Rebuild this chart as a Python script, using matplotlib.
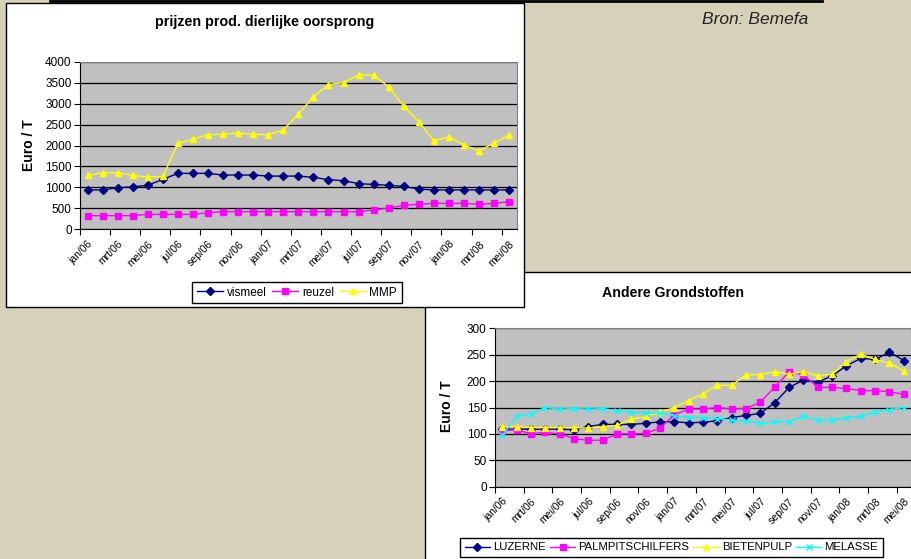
import matplotlib.pyplot as plt
from matplotlib.patches import Rectangle

plt.rcParams['font.family'] = ['Liberation Sans', 'DejaVu Sans']

# maanden jan/06 t/m mei/08
maanden = ['jan/06', 'feb/06', 'mrt/06', 'apr/06', 'mei/06', 'jun/06',
           'jul/06', 'aug/06', 'sep/06', 'okt/06', 'nov/06', 'dec/06',
           'jan/07', 'feb/07', 'mrt/07', 'apr/07', 'mei/07', 'jun/07',
           'jul/07', 'aug/07', 'sep/07', 'okt/07', 'nov/07', 'dec/07',
           'jan/08', 'feb/08', 'mrt/08', 'apr/08', 'mei/08']

# prijzen prod. dierlijke oorsprong (Euro / T)
vismeel = [940, 940, 990, 1015, 1050, 1190, 1335, 1335, 1335, 1295, 1295, 1295,
           1270, 1270, 1270, 1240, 1185, 1160, 1090, 1070, 1050, 1025, 960,
           940, 940, 940, 940, 940, 940]
reuzel = [326, 326, 326, 326, 357, 357, 357, 357, 397, 421, 421, 421,
          421, 421, 421, 421, 421, 421, 421, 460, 508, 572, 596,
          619, 619, 619, 596, 619, 659]
mmp = [1286, 1350, 1350, 1286, 1247, 1262, 2049, 2152, 2255, 2271, 2295, 2271,
       2255, 2370, 2750, 3160, 3454, 3502, 3692, 3676, 3398, 2938, 2565,
       2112, 2207, 2017, 1866, 2064, 2247]

# Andere Grondstoffen (Euro / T)
luzerne = [109, 109, 109, 109, 109, 108, 114, 118, 118, 118, 120, 123,
           123, 121, 122, 125, 131, 135, 139, 159, 188, 202, 198,
           210, 229, 243, 241, 255, 239]
palmpitschilfers = [106, 108, 100, 103, 100, 91, 88, 88, 100, 100, 101, 111,
                    136, 147, 147, 150, 147, 148, 160, 189, 217, 212, 188,
                    188, 186, 182, 182, 180, 175]
bietenpulp = [114, 114, 112, 112, 112, 112, 111, 114, 116, 128, 133, 141,
              150, 163, 176, 192, 192, 212, 212, 218, 213, 218, 210,
              213, 237, 251, 241, 234, 219]
melasse = [97, 133, 138, 150, 147, 148, 147, 148, 144, 141, 140, 140,
           134, 131, 131, 129, 126, 125, 120, 123, 123, 133, 126,
           126, 131, 133, 142, 146, 150]

W, H = 912, 559


def rect(x0, y0, x1, y1):
    # pixelcoordinaten -> figuurcoordinaten
    return [x0 / W, 1 - y1 / H, (x1 - x0) / W, (y1 - y0) / H]


fig = plt.figure(figsize=(W / 100, H / 100), dpi=100)
fig.patch.set_facecolor('#d7d1ba')

# achtergrond met kaders
bg = fig.add_axes([0, 0, 1, 1])
bg.set_xlim(0, W)
bg.set_ylim(H, 0)
bg.axis('off')
bg.plot([50, 822], [0.5, 0.5], color='black', lw=2)
bg.add_patch(Rectangle((425, 272), 520, 300, facecolor='white', edgecolor='black', lw=1))
bg.add_patch(Rectangle((6, 3), 518, 304, facecolor='white', edgecolor='black', lw=1))
bg.text(755, 20, 'Bron: Bemefa', fontsize=12.5, style='italic', ha='center', va='center', color='#222222')
bg.text(265, 22, 'prijzen prod. dierlijke oorsprong', fontsize=10.3, fontweight='bold', ha='center', va='center')
bg.text(673, 293, 'Andere Grondstoffen', fontsize=10.2, fontweight='bold', ha='center', va='center')
bg.text(29, 145, 'Euro / T', fontsize=10, fontweight='bold', rotation=90, ha='center', va='center')
bg.text(447, 406, 'Euro / T', fontsize=10, fontweight='bold', rotation=90, ha='center', va='center')

x = list(range(len(maanden)))


def opmaak(ax, ymax, ystep):
    ax.set_facecolor('#c0c0c0')
    ax.set_xlim(-0.5, len(maanden) - 0.5)
    ax.set_ylim(0, ymax)
    ax.set_yticks(range(0, ymax + 1, ystep))
    ax.grid(axis='y', color='black', lw=0.9)
    ax.set_axisbelow(True)
    ax.set_xticks(x[::2])
    ax.set_xticklabels(maanden[::2], rotation=45, ha='right', va='top',
                       rotation_mode='anchor', fontsize=7.5)
    ax.set_xticks([i - 0.5 for i in x[::2]], minor=True)
    ax.tick_params(axis='x', which='major', length=0, pad=7)
    ax.tick_params(axis='x', which='minor', length=4, width=0.8)
    ax.tick_params(axis='y', labelsize=8.5, length=4, width=0.8, pad=2)
    for s in ['top', 'right']:
        ax.spines[s].set_color('#808080')
    for s in ['left', 'bottom']:
        ax.spines[s].set_color('black')


# bovenste grafiek
ax1 = fig.add_axes(rect(80, 61.7, 516.7, 229.3))
l1, = ax1.plot(x, vismeel, color='#000080', marker='D', ms=3.6, lw=1)
l2, = ax1.plot(x, reuzel, color='#ff00ff', marker='s', ms=4, lw=1)
l3, = ax1.plot(x, mmp, color='#ffff00', marker='^', ms=5, lw=1)
opmaak(ax1, 4000, 500)
fig.legend([l1, l2, l3], ['vismeel', 'reuzel', 'MMP'], loc='center',
           bbox_to_anchor=(297 / W, 1 - 292.5 / H), ncol=3, fontsize=8.5,
           frameon=True, fancybox=False, edgecolor='black', framealpha=1,
           handlelength=2.2, handletextpad=0.3, columnspacing=0.5, borderpad=0.4)

# onderste grafiek
ax2 = fig.add_axes(rect(495, 328.3, 911, 486.7))
m1, = ax2.plot(x, luzerne, color='#000080', marker='D', ms=3.6, lw=1)
m2, = ax2.plot(x, palmpitschilfers, color='#ff00ff', marker='s', ms=4, lw=1)
m3, = ax2.plot(x, bietenpulp, color='#ffff00', marker='^', ms=5, lw=1)
m4, = ax2.plot(x, melasse, color='#00ffff', marker='x', ms=4.5, mew=1, lw=1)
opmaak(ax2, 300, 50)
fig.legend([m1, m2, m3, m4], ['LUZERNE', 'PALMPITSCHILFERS', 'BIETENPULP', 'MELASSE'],
           loc='center', bbox_to_anchor=(671.5 / W, 1 - 547.5 / H), ncol=4, fontsize=8.2,
           frameon=True, fancybox=False, edgecolor='black', framealpha=1,
           handlelength=2.2, handletextpad=0.3, columnspacing=0.35, borderpad=0.4)

plt.savefig('out.png', dpi=100, facecolor=fig.get_facecolor())
